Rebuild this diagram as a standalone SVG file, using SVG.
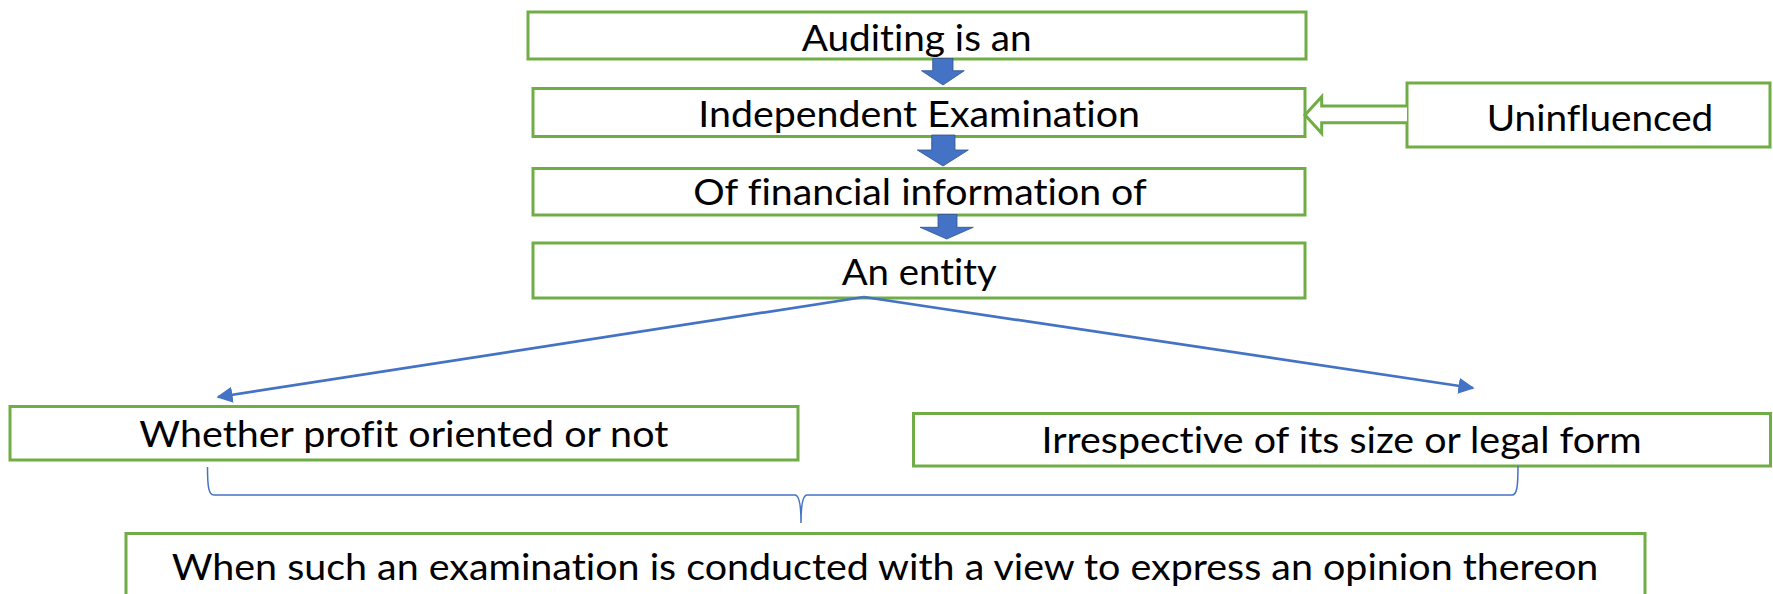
<svg xmlns="http://www.w3.org/2000/svg" width="1773" height="594" viewBox="0 0 1773 594">
  <style>
    .box { fill: #ffffff; stroke: #70AD47; stroke-width: 3; }
    .lbl { font-family: Lato, "Open Sans", sans-serif; font-size: 36px; fill: #000000; font-variant-ligatures: none; font-feature-settings: "liga" 0, "clig" 0; }
    .block { fill: #4472C4; stroke: #2F528F; stroke-width: 0.8; }
    .link { fill: none; stroke: #4472C4; stroke-width: 2.7; }
    .brace { fill: none; stroke: #4472C4; stroke-width: 1.5; }
  </style>
  <defs>
    <marker id="tri" viewBox="0 0 10 10" refX="9" refY="5" markerWidth="6" markerHeight="6" markerUnits="strokeWidth" orient="auto">
      <path d="M0,0 L10,5 L0,10 Z" fill="#4472C4"/>
    </marker>
  </defs>

  <rect width="1773" height="594" fill="#ffffff"/>

  <g id="node-auditing">
    <rect class="box" x="528" y="12" width="778" height="47"/>
    <text class="lbl" x="801.7" y="50.7" textLength="230" lengthAdjust="spacingAndGlyphs">Auditing is an</text>
  </g>

  <g id="node-independent">
    <rect class="box" x="533" y="88.5" width="772" height="48"/>
    <text class="lbl" x="698.3" y="127.3" textLength="441.7" lengthAdjust="spacingAndGlyphs">Independent Examination</text>
  </g>

  <g id="node-financial">
    <rect class="box" x="533" y="168.5" width="772" height="46.5"/>
    <text class="lbl" x="693.3" y="205" textLength="453.4" lengthAdjust="spacingAndGlyphs">Of financial information of</text>
  </g>

  <g id="node-entity">
    <rect class="box" x="533" y="243" width="772" height="55"/>
    <text class="lbl" x="841.7" y="285" textLength="155" lengthAdjust="spacingAndGlyphs">An entity</text>
  </g>

  <g id="node-uninfluenced">
    <rect class="box" x="1407" y="83" width="363" height="64"/>
    <text class="lbl" x="1486.7" y="130.5" textLength="226.6" lengthAdjust="spacingAndGlyphs">Uninfluenced</text>
  </g>

  <g id="node-profit">
    <rect class="box" x="10" y="406.5" width="788" height="53.5"/>
    <text class="lbl" x="139.3" y="446.7" textLength="529" lengthAdjust="spacingAndGlyphs">Whether profit oriented or not</text>
  </g>

  <g id="node-size">
    <rect class="box" x="913.5" y="413.5" width="857" height="52.5"/>
    <text class="lbl" x="1041.5" y="452.7" textLength="600.2" lengthAdjust="spacingAndGlyphs">Irrespective of its size or legal form</text>
  </g>

  <g id="node-opinion">
    <rect class="box" x="126" y="533.5" width="1519" height="70"/>
    <text class="lbl" x="171.7" y="580" textLength="1426.6" lengthAdjust="spacingAndGlyphs">When such an examination is conducted with a view to express an opinion thereon</text>
  </g>

  <g id="connectors">
    <!-- block arrows down the main chain -->
    <path class="block" d="M932.7,58.5 H953 V70.7 H964.3 L943,85 L921.5,70.7 H932.7 Z"/>
    <path class="block" d="M931.7,135 H955 V150 H968.3 L943,166 L917.3,150 H931.7 Z"/>
    <path class="block" d="M938,214.5 H957 V227.3 H973.3 L946.7,239 L920,227.3 H938 Z"/>

    <!-- hollow arrow from the side box -->
    <path d="M1407,106 H1321.7 V96.7 L1305,115 L1321.7,133.3 V122.7 H1407" fill="#ffffff" stroke="#70AD47" stroke-width="3" stroke-linejoin="miter"/>

    <!-- branch lines out of the entity box -->
    <line class="link" x1="864" y1="297" x2="218" y2="397" marker-end="url(#tri)"/>
    <line class="link" x1="864" y1="297" x2="1473" y2="388" marker-end="url(#tri)"/>

    <!-- brace gathering both branches -->
    <path class="brace" d="M207.5,467 C207.5,486 208.5,495 214,495 L795,495 C799,495 801,504 801,523 C801,504 803,495 807,495 L1512,495 C1517,495 1518,486 1518,466"/>
  </g>
</svg>
